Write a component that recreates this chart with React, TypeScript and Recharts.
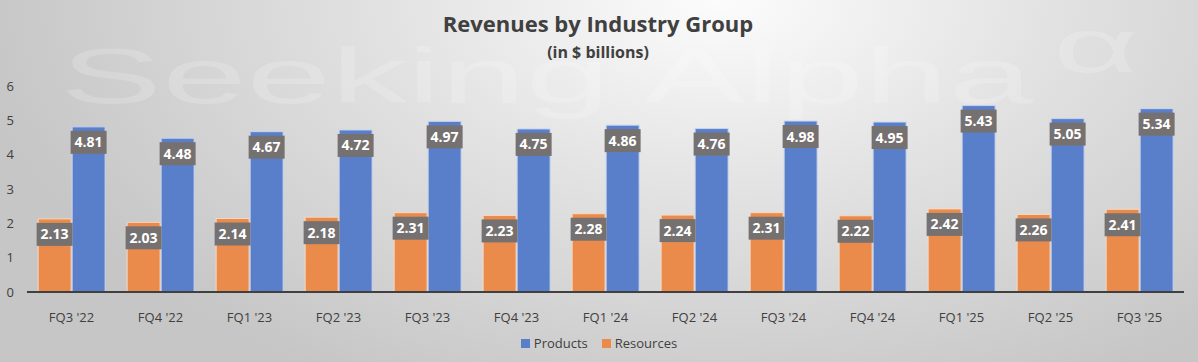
import React from 'react';
import { BarChart, Bar, XAxis, YAxis, Legend, LabelList } from 'recharts';

const quarters = [
    "FQ3 '22", "FQ4 '22", "FQ1 '23", "FQ2 '23", "FQ3 '23", "FQ4 '23", "FQ1 '24",
    "FQ2 '24", "FQ3 '24", "FQ4 '24", "FQ1 '25", "FQ2 '25", "FQ3 '25",
];
const resources = [2.13, 2.03, 2.14, 2.18, 2.31, 2.23, 2.28, 2.24, 2.31, 2.22, 2.42, 2.26, 2.41];
const products = [4.81, 4.48, 4.67, 4.72, 4.97, 4.75, 4.86, 4.76, 4.98, 4.95, 5.43, 5.05, 5.34];
const yTicks = [0, 1, 2, 3, 4, 5, 6];

const data = quarters.map((q, i) => ({
    quarter: q,
    resources: resources[i],
    products: products[i],
}));

const FONT = "'Open Sans', 'Noto Sans', sans-serif";
const ORANGE = '#EA8B4C';
const BLUE = '#5A7FCA';

const ValueBox = (props: any) => {
    const { x, y, width, value } = props;
    const cx = x + width / 2;
    const w = 36;
    const h = 23;
    const top = y + 4;
    return (
        <g>
            <rect x={cx - w / 2} y={top} width={w} height={h} fill="#767171" />
            <text
                x={cx}
                y={top + h / 2 + 5}
                textAnchor="middle"
                fill="#ffffff"
                fontSize={14}
                fontWeight={700}
                fontFamily={FONT}
            >
                {Number(value).toFixed(2)}
            </text>
        </g>
    );
};

const LegendContent = () => (
    <div style={{ display: 'flex', justifyContent: 'center', fontFamily: FONT, fontSize: 13, color: '#404040' }}>
        {[{ name: 'Products', color: BLUE }, { name: 'Resources', color: ORANGE }].map((it) => (
            <span key={it.name} style={{ display: 'inline-flex', alignItems: 'center', margin: '0 7px' }}>
                <span style={{ width: 9, height: 9, background: it.color, marginRight: 4, display: 'inline-block' }} />
                {it.name}
            </span>
        ))}
    </div>
);

export default function App() {
    return (
        <div
            style={{
                position: 'absolute',
                left: 0,
                top: 0,
                width: 1198,
                height: 362,
                background: 'radial-gradient(ellipse 62% 120% at 60% 0%, #fcfcfc 0%, #e2e2e2 45%, #c6c6c6 100%)',
                overflow: 'hidden',
            }}
        >
            <svg width={1198} height={362} style={{ position: 'absolute', left: 0, top: 0 }}>
                {/* watermark, stretched like the original */}
                <g transform="scale(1.95,1)" fill="#ffffff" fillOpacity={0.18}>
                    <text x={31} y={103} fontSize={78} fontFamily="'Liberation Sans', sans-serif">
                        Seeking Alpha
                    </text>
                    <text x={540} y={72} fontSize={76} fontFamily="'Liberation Sans', sans-serif">
                        α
                    </text>
                </g>
                <text x={598} y={32} textAnchor="middle" fontSize={22} fontWeight={700} fontFamily={FONT} fill="#404040">
                    Revenues by Industry Group
                </text>
                <text x={598} y={58} textAnchor="middle" fontSize={16} fontWeight={700} fontFamily={FONT} fill="#404040">
                    (in $ billions)
                </text>
            </svg>
            <div style={{ position: 'absolute', left: 0, top: 0 }}>
                <BarChart
                    width={1198}
                    height={362}
                    data={data}
                    margin={{ top: 86, right: 14, left: 0, bottom: 30 }}
                    barCategoryGap="12.5%"
                    barGap={1}
                >
                    <XAxis
                        dataKey="quarter"
                        stroke="#404040"
                        strokeWidth={2}
                        tickLine={false}
                        tickMargin={15}
                        height={40}
                        interval={0}
                        tick={{ fill: '#404040', fontSize: 13, fontFamily: FONT }}
                    />
                    <YAxis
                        domain={[0, 6]}
                        ticks={yTicks}
                        axisLine={false}
                        tickLine={false}
                        width={27}
                        tickMargin={7}
                        tick={{ fill: '#404040', fontSize: 13, fontFamily: FONT }}
                    />
                    <Legend
                        verticalAlign="middle"
                        content={<LegendContent />}
                        wrapperStyle={{ top: 334, left: 0, width: 1198 }}
                    />
                    <Bar dataKey="resources" name="Resources" fill={ORANGE} stroke="#f6d9c4" strokeWidth={1} isAnimationActive={false}>
                        <LabelList dataKey="resources" content={<ValueBox />} />
                    </Bar>
                    <Bar dataKey="products" name="Products" fill={BLUE} stroke="#c9d5ee" strokeWidth={1} isAnimationActive={false}>
                        <LabelList dataKey="products" content={<ValueBox />} />
                    </Bar>
                </BarChart>
            </div>
        </div>
    );
}
